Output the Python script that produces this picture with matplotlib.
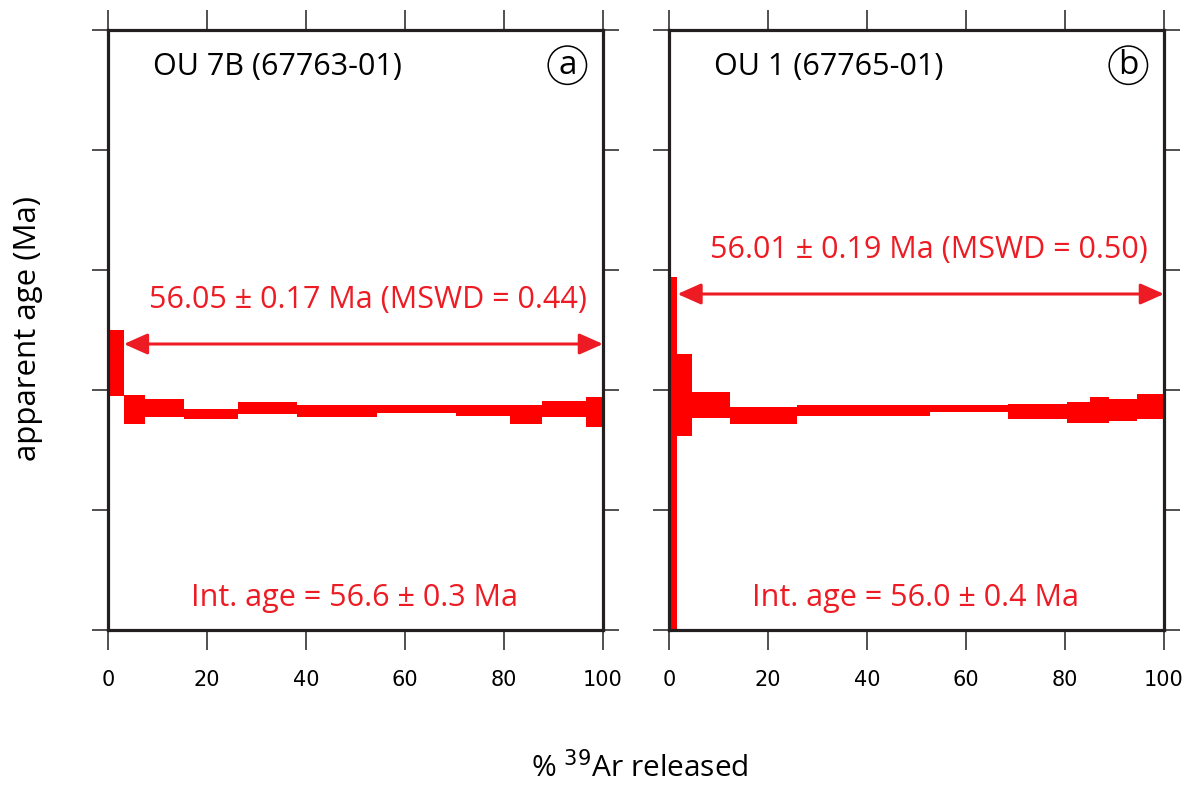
import numpy as np
import matplotlib
matplotlib.use("Agg")
from matplotlib import pyplot as plt

# step boundaries (% 39Ar released) and apparent ages (Ma) with +-errors
edges_a = [0, 3.2, 7.5, 15.4, 26.3, 38.2, 54.4, 70.4, 81.3, 87.7, 96.5, 100]
age_a = [57.18, 56.01, 56.05, 55.89, 56.05, 55.98, 56.02, 55.98, 55.89, 56.03, 55.95]
err_a = [0.83, 0.36, 0.22, 0.125, 0.15, 0.145, 0.10, 0.14, 0.23, 0.195, 0.37]

edges_b = [0, 1.7, 4.6, 12.3, 25.8, 52.7, 68.4, 80.4, 85.0, 88.8, 94.5, 100]
age_b = [54.91, 56.375, 56.125, 55.87, 55.99, 56.03, 55.955, 55.94, 55.99, 55.995, 56.08]
err_b = [4.41, 1.02, 0.33, 0.21, 0.13, 0.09, 0.19, 0.26, 0.325, 0.27, 0.31]

titles = ["OU 7B (67763-01)", "OU 1 (67765-01)"]
letters = ["a", "b"]
plateau_txt = ["56.05 \u00b1 0.17 Ma (MSWD = 0.44)", "56.01 \u00b1 0.19 Ma (MSWD = 0.50)"]
int_txt = ["Int. age = 56.6 \u00b1 0.3 Ma", "Int. age = 56.0 \u00b1 0.4 Ma"]
plateau_start = [3.2, 1.7]
arrow_y = [57.65, 58.9]
plateau_txt_y = [58.75, 60.0]

ylo, yhi = 50.5, 65.5
xticks = [0, 20, 40, 60, 80, 100]

plt.rcParams['font.family'] = ['Open Sans', 'DejaVu Sans']
dark = '#231f20'
red_txt = '#ed1c24'

fig = plt.figure(figsize=(11.96, 7.91), dpi=100)
ax_a = fig.add_axes([108 / 1196, 161 / 791, 495 / 1196, 600 / 791])
ax_b = fig.add_axes([669 / 1196, 161 / 791, 495 / 1196, 600 / 791])

data = [(edges_a, age_a, err_a), (edges_b, age_b, err_b)]

for i, ax in enumerate([ax_a, ax_b]):
    edges, age, err = data[i]
    left = np.array(edges[:-1])
    width = np.diff(edges)
    age = np.array(age)
    err = np.array(err)
    ax.bar(left, 2 * err, width=width, bottom=age - err, align='edge',
           color='#ff0000', linewidth=0, zorder=2)

    ax.set_xlim(0, 100)
    ax.set_ylim(ylo, yhi)
    ax.set_xticks(xticks)
    ax.set_yticks(np.arange(ylo, yhi + 0.1, 3))
    ax.set_yticklabels([])
    ax.tick_params(axis='x', direction='out', length=14.5, width=1.1, color=dark,
                   top=True, labeltop=False, pad=14, labelsize=15)
    ax.tick_params(axis='y', direction='out', length=11.5, width=1.1, color=dark,
                   right=True, left=True)
    for lab in ax.get_xticklabels():
        lab.set_family(['Liberation Sans Narrow', 'DejaVu Sans'])
    for s in ax.spines.values():
        s.set_linewidth(2.3)
        s.set_color(dark)
        s.set_zorder(3)

    ax.text(9.1, 64.575, titles[i], fontsize=22, va='center', ha='left', color='black')
    ax.text(92.8, 64.62, letters[i], fontsize=24, va='center', ha='center',
            bbox=dict(boxstyle='circle,pad=0.08', fc='none', ec='black', lw=1.1))

    ax.annotate('', xy=(100, arrow_y[i]), xytext=(plateau_start[i], arrow_y[i]),
                arrowprops=dict(arrowstyle='<|-|>,head_length=0.72,head_width=0.32',
                                color=red_txt, lw=2.2, shrinkA=0, shrinkB=0,
                                mutation_scale=20), zorder=4)
    ax.text(52.5, plateau_txt_y[i], plateau_txt[i], fontsize=22, color=red_txt,
            ha='center', va='center')
    ax.text(49.8, 51.3, int_txt[i], fontsize=22, color=red_txt,
            ha='center', va='center')

fig.text(28 / 1196, 1 - 328 / 791, 'apparent age (Ma)', rotation=90, fontsize=22.5,
         ha='center', va='center')
fig.text(640 / 1196, 1 - 768 / 791, '% $^{39}$Ar released', fontsize=21.5,
         ha='center', va='center')

fig.savefig('out.png', dpi=100)
